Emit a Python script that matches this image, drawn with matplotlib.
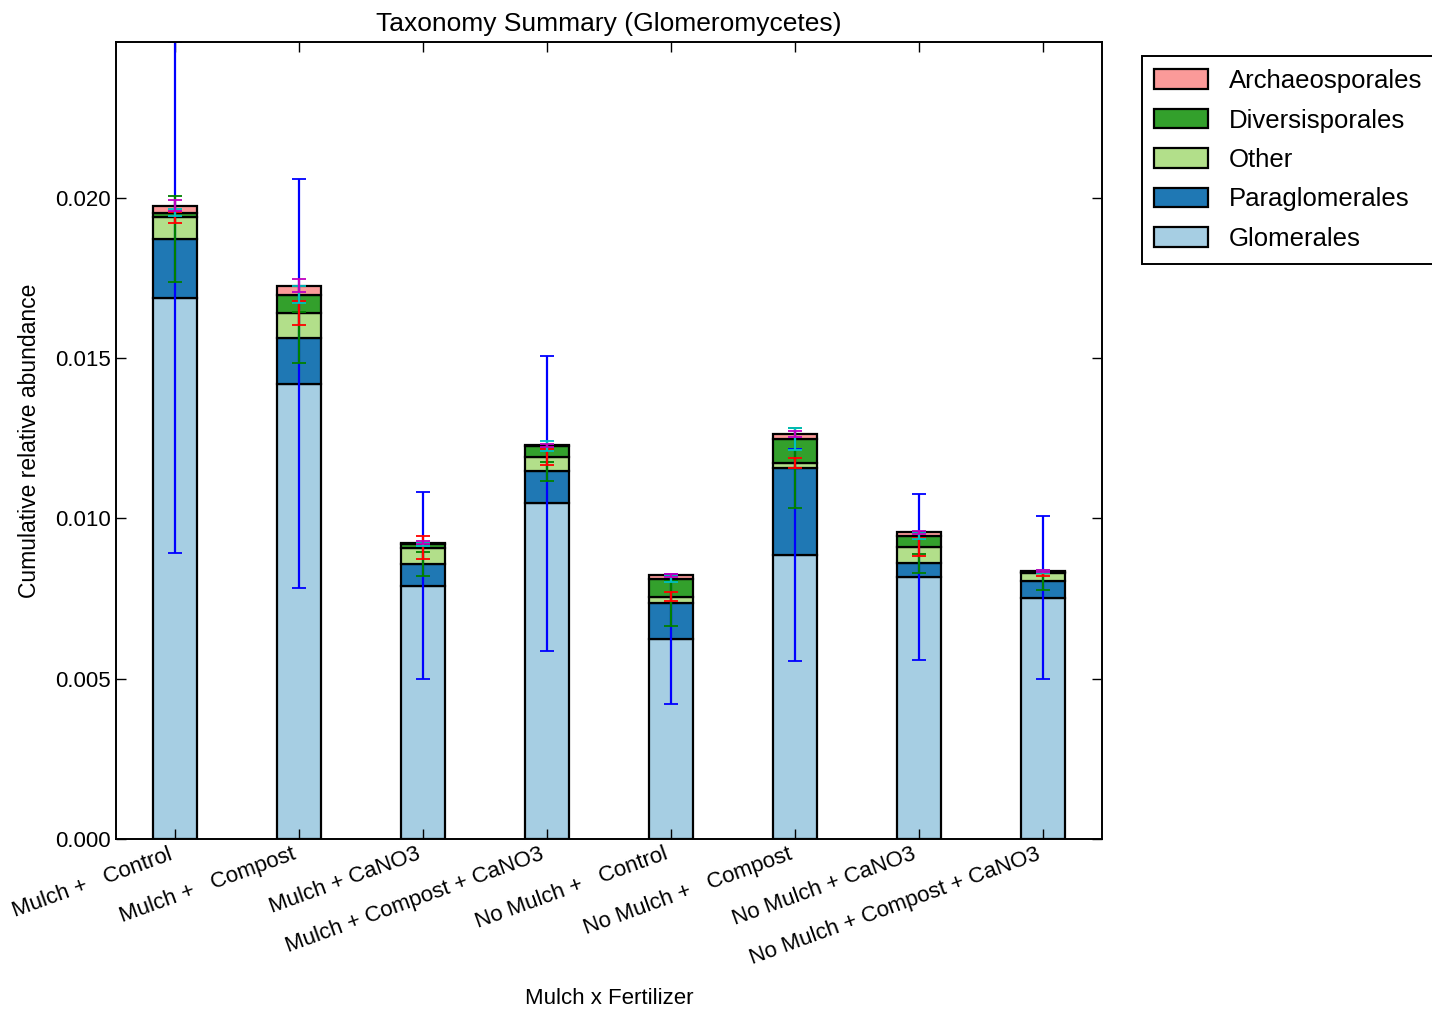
import numpy as np
import matplotlib
matplotlib.use("Agg")
import matplotlib.pyplot as plt

plt.rcParams['font.family'] = ['Liberation Sans', 'DejaVu Sans']

# treatments along the x axis
groups = ["Mulch +   Control", "Mulch +   Compost", "Mulch + CaNO3",
          "Mulch + Compost + CaNO3", "No Mulch +   Control", "No Mulch +   Compost",
          "No Mulch + CaNO3", "No Mulch + Compost + CaNO3"]

# mean relative abundance per order (stacked bottom to top)
glomerales = [0.01688, 0.01420, 0.00790, 0.01047, 0.00624, 0.00886, 0.00817, 0.00753]
paraglomerales = [0.00184, 0.00143, 0.00067, 0.00099, 0.00111, 0.00271, 0.00043, 0.00053]
other = [0.00066, 0.00078, 0.00052, 0.00044, 0.00021, 0.00015, 0.00052, 0.00023]
diversisporales = [0.00015, 0.00056, 0.00010, 0.00036, 0.00055, 0.00075, 0.00033, 0.00005]
archaeosporales = [0.00022, 0.00028, 0.00005, 0.00002, 0.00011, 0.00016, 0.00012, 0.00003]

# standard errors per order
err_glomerales = [0.00797, 0.00638, 0.00292, 0.00460, 0.00203, 0.00330, 0.00260, 0.00255]
err_paraglomerales = [0.00134, 0.00080, 0.00038, 0.00030, 0.00070, 0.00125, 0.00030, 0.00028]
err_other = [0.00016, 0.00038, 0.00036, 0.00025, 0.00013, 0.00015, 0.00028, 0.00010]
err_diversisporales = [0.00012, 0.00026, 0.00005, 0.00016, 0.00010, 0.00034, 0.00010, 0.00005]
err_archaeosporales = [0.00017, 0.00020, 0.00005, 0.00005, 0.00005, 0.00010, 0.00005, 0.00003]

layers = [
    ("Glomerales", glomerales, err_glomerales, "#a6cee3", "b"),
    ("Paraglomerales", paraglomerales, err_paraglomerales, "#1f78b4", "g"),
    ("Other", other, err_other, "#b2df8a", "r"),
    ("Diversisporales", diversisporales, err_diversisporales, "#33a02c", "c"),
    ("Archaeosporales", archaeosporales, err_archaeosporales, "#fb9a99", "m"),
]

fig = plt.figure(figsize=(14.32, 10.11), dpi=100)
ax = fig.add_axes([0.081, 0.170, 0.6886, 0.7885])

x = np.arange(len(groups))
width = 0.35
bottom = np.zeros(len(groups))
handles = []
for name, vals, errs, color, ecolor in layers:
    vals = np.array(vals)
    h = ax.bar(x, vals, width, bottom=bottom, color=color, edgecolor="black",
               linewidth=1.6, label=name, zorder=1)
    handles.append(h)
    top = bottom + vals
    ax.errorbar(x, top, yerr=errs, fmt="none", ecolor=ecolor, elinewidth=1.6,
                capsize=5, capthick=1.3, zorder=2)
    bottom = top

ax.set_xlim(-0.476, len(groups) - 1 + 0.476)
ax.set_ylim(0, max(np.array(glomerales) + np.array(err_glomerales)))
ax.set_yticks(np.arange(0, 0.0201, 0.005))
ax.yaxis.set_major_formatter(matplotlib.ticker.FormatStrFormatter("%.3f"))
ax.set_xticks(x)
ax.set_xticklabels(groups, rotation=20, ha="right", fontsize=16)
ax.tick_params(axis="y", labelsize=16)
ax.tick_params(direction="in", length=7, width=1, top=True, right=True)
for s in ax.spines.values():
    s.set_linewidth(1.4)

ax.set_title("Taxonomy Summary (Glomeromycetes)", fontsize=19, pad=8)
ax.set_xlabel("Mulch x Fertilizer", fontsize=16, labelpad=14)
ax.set_ylabel("Cumulative relative abundance", fontsize=16.5, labelpad=10)

leg = ax.legend(handles[::-1], [l[0] for l in layers][::-1], loc="upper left",
                bbox_to_anchor=(1.04, 0.982), borderaxespad=0, fontsize=18.5,
                fancybox=False, framealpha=1, edgecolor="black",
                handlelength=2.1, handleheight=0.8, handletextpad=0.8,
                labelspacing=0.6, borderpad=0.5)
leg.get_frame().set_linewidth(1.4)

fig.savefig("out.png", dpi=100)
